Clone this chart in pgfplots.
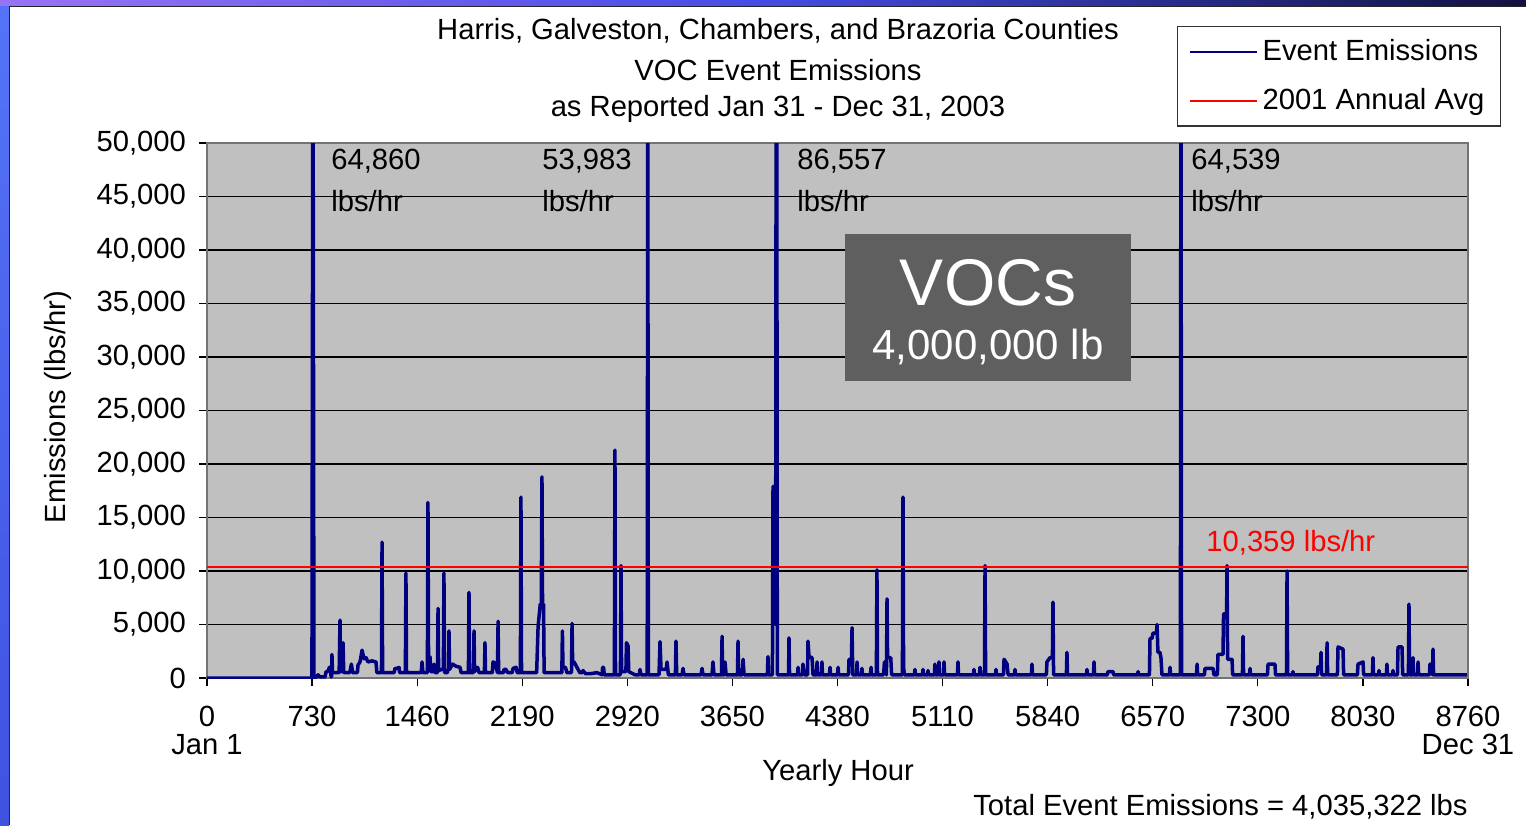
\documentclass[border=0pt]{standalone}
\usepackage{fontspec}
\setmainfont{Liberation Sans}
\usepackage{pgfplots}
\pgfplotsset{compat=1.18}

\definecolor{plotbg}{HTML}{C0C0C0}
\definecolor{evt}{HTML}{000080}
\definecolor{vocbox}{HTML}{5F5F5F}
\definecolor{frameA}{rgb}{0.60,0.45,0.96}
\definecolor{frameB}{rgb}{0.27,0.30,0.90}
\definecolor{frameC}{rgb}{0.07,0.07,0.25}
\definecolor{sideA}{rgb}{0.33,0.45,0.97}
\definecolor{sideB}{rgb}{0.25,0.32,0.88}

\newcommand\cf{\fontsize{14.6}{17}\selectfont}

\begin{document}
\begin{tikzpicture}
% page frame, in pixel units (origin top left)
\begin{scope}[x=0.5pt,y=-0.5pt]
  \useasboundingbox (0,0) rectangle (1526,825);
  \fill[white] (0,0) rectangle (1526,825);
  \shade[left color=frameA,right color=frameB] (0,0) rectangle (760,6);
  \shade[left color=frameB,right color=frameC] (760,0) rectangle (1526,6);
  \shade[top color=sideA,bottom color=sideB] (0,6) rectangle (9,825);
  \draw[black!85,line width=0.8pt] (9.5,825) -- (9.5,6.5) -- (1526,6.5);
\end{scope}

\begin{axis}[
  at={(103.5pt,-339pt)}, anchor=south west,
  scale only axis, width=630.5pt, height=267.5pt,
  xmin=0, xmax=8760, ymin=0, ymax=50000,
  axis background/.style={fill=plotbg},
  axis line style={draw=black!55,line width=0.9pt},
  ymajorgrids, grid style={black,line width=0.6pt},
  tick pos=left, tick align=outside, major tick length=4pt,
  major tick style={black,line width=0.6pt},
  scaled y ticks=false,
  xtick={0,730,1460,2190,2920,3650,4380,5110,5840,6570,7300,8030,8760},
  xticklabels={{0\\Jan 1},730,1460,2190,2920,3650,4380,5110,5840,6570,7300,8030,{8760\\Dec 31}},
  xticklabel style={align=center,font=\fontsize{14.6}{13.8}\selectfont,yshift=-6.6pt},
  ytick={0,5000,...,50000},
  yticklabels={0,{5,000},{10,000},{15,000},{20,000},{25,000},{30,000},{35,000},{40,000},{45,000},{50,000}},
  yticklabel style={font=\cf,xshift=-3pt},
  /pgf/number format/assume math mode=true,
  legend style={at={(1.0262,1.2187)},anchor=north east,draw=black!80,fill=white,
    font=\cf,inner xsep=6pt,inner ysep=4.5pt,row sep=8.5pt,line width=0.6pt},
  legend cell align=left,
  legend image code/.code={\draw[#1,line width=1.1pt] (0pt,0pt) -- (33.5pt,0pt);},
]
\addplot[evt,line width=1.75pt,line join=round] coordinates {
(0,0) (729,0) (736,64860) (743,0) (760,100) (771,300) (785,100) (820,100)
(827,600) (840,600) (850,1000) (858,1000) (862,100) (865,100) (868,2200) (872,500)
(918,500) (924,5400) (928,600) (940,600) (945,3300) (950,500) (990,500) (993,600)
(1003,1300) (1012,500) (1045,500) (1049,1200) (1063,1500) (1077,2600) (1091,1800)
(1105,1900) (1118,1500) (1146,1600) (1174,1500) (1180,500) (1212,500) (1216,12700)
(1220,500) (1300,500) (1306,900) (1320,900) (1334,1000) (1338,500) (1378,500)
(1382,9800) (1386,500) (1488,500) (1494,1500) (1500,500) (1531,500) (1535,16400)
(1539,2000) (1549,2000) (1555,600) (1572,600) (1577,1300) (1584,500) (1601,500)
(1605,6500) (1609,700) (1630,800) (1642,800) (1646,9800) (1650,500) (1670,500)
(1674,800) (1678,800) (1681,4400) (1685,800) (1705,1300) (1730,1100) (1758,1000)
(1765,500) (1816,500) (1820,8000) (1824,500) (1851,500) (1855,4400) (1859,600)
(1880,1000) (1890,500) (1927,500) (1931,3300) (1935,500) (1982,500) (1987,1500)
(2001,1400) (2018,500) (2022,5300) (2026,500) (2060,500) (2063,800) (2077,800)
(2090,500) (2120,500) (2126,900) (2147,1000) (2155,500) (2177,500) (2181,16900)
(2185,500) (2290,500) (2300,4800) (2315,6900) (2322,6900) (2327,18800) (2331,6900)
(2338,6900) (2342,500) (2465,500) (2469,4400) (2473,1000) (2490,1000) (2500,500)
(2532,500) (2536,5100) (2540,1500) (2550,1500) (2570,1000) (2590,500) (2608,500)
(2612,700) (2630,400) (2661,400) (2709,500) (2745,300) (2748,1000) (2755,1000)
(2760,300) (2830,300) (2834,21300) (2838,300) (2872,300) (2876,10500) (2880,600)
(2910,600) (2914,3300) (2925,3000) (2930,600) (2973,300) (3003,300) (3008,800)
(3015,300) (3058,300) (3062,53983) (3066,300) (3140,300) (3147,3400) (3154,800)
(3190,800) (3196,1500) (3205,300) (3254,300) (3258,3450) (3263,300) (3300,300)
(3307,900) (3314,300) (3432,300) (3439,900) (3446,300) (3508,300) (3515,1500)
(3522,300) (3574,300) (3578,3900) (3582,300) (3592,300) (3599,1500) (3606,300)
(3685,300) (3689,3450) (3693,300) (3717,300) (3724,1750) (3731,300) (3893,300)
(3897,2000) (3901,300) (3928,300) (3932,17900) (3936,5000) (3943,17900) (3950,5000)
(3956,86557) (3962,300) (4040,300) (4043,3750) (4047,300) (4102,300) (4106,1000)
(4110,300) (4136,300) (4140,1300) (4150,300) (4172,300) (4175,3450) (4182,2000)
(4203,1900) (4210,300) (4234,300) (4238,1500) (4242,300) (4268,300) (4272,1500)
(4276,300) (4324,300) (4328,1000) (4332,300) (4380,300) (4384,1000) (4388,300)
(4456,300) (4460,1750) (4477,1750) (4481,4700) (4486,300) (4512,300) (4516,1500)
(4520,300) (4546,300) (4550,900) (4554,300) (4609,300) (4613,1000) (4617,300)
(4650,300) (4654,10100) (4658,300) (4700,300) (4706,1500) (4716,1500) (4720,300)
(4724,7400) (4728,1900) (4750,1900) (4756,300) (4831,300) (4835,16900) (4839,1000)
(4845,300) (4914,300) (4918,800) (4922,300) (4970,300) (4974,800) (4978,300)
(5005,300) (5009,700) (5013,300) (5053,300) (5057,1300) (5061,300) (5081,300)
(5085,1500) (5089,300) (5116,300) (5120,1500) (5124,300) (5213,300) (5217,1500)
(5221,300) (5324,300) (5328,800) (5332,300) (5366,300) (5370,1000) (5374,300)
(5401,300) (5405,10500) (5409,300) (5477,300) (5481,800) (5485,300) (5533,300)
(5537,1750) (5558,1300) (5565,300) (5609,300) (5613,800) (5617,300) (5727,300)
(5731,1300) (5735,300) (5831,300) (5835,1500) (5856,1900) (5873,1900) (5877,7100)
(5881,300) (5970,300) (5974,2400) (5978,300) (6109,300) (6113,800) (6117,300)
(6158,300) (6162,1500) (6166,300) (6255,300) (6259,600) (6294,600) (6298,300)
(6464,300) (6468,600) (6472,300) (6547,300) (6551,3700) (6565,3700) (6572,4200)
(6595,4200) (6600,5000) (6606,2400) (6620,2400) (6627,1900) (6634,300) (6686,300)
(6690,1000) (6694,300) (6762,300) (6766,64539) (6770,300) (6874,300) (6878,1300)
(6882,300) (6929,300) (6933,900) (6989,900) (6995,300) (7019,300) (7023,2200)
(7058,2200) (7062,6000) (7083,6000) (7086,10500) (7090,1750) (7121,1750) (7125,300)
(7193,300) (7197,3900) (7201,300) (7242,300) (7246,900) (7250,300) (7367,300)
(7371,1300) (7419,1300) (7423,300) (7499,300) (7503,10000) (7507,300) (7540,300)
(7544,600) (7548,300) (7714,300) (7718,1050) (7735,1050) (7739,2400) (7743,300)
(7777,300) (7781,3300) (7785,300) (7853,300) (7857,2900) (7892,2700) (7896,300)
(7992,300) (7996,1300) (8031,1500) (8035,300) (8096,300) (8100,1900) (8104,300)
(8138,300) (8142,700) (8146,300) (8193,300) (8197,1300) (8201,300) (8235,300)
(8239,700) (8243,300) (8270,300) (8274,2900) (8302,2900) (8306,300) (8346,300)
(8350,6900) (8354,300) (8374,300) (8378,1900) (8382,300) (8409,300) (8413,1500)
(8417,300) (8492,300) (8496,1300) (8513,300) (8517,2700) (8521,300) (8580,300)
(8753,300)
};
\addlegendentry{Event Emissions}
\addplot[red,line width=1.3pt] coordinates {(0,10359) (8760,10359)};
\addlegendentry{2001 Annual Avg}
\end{axis}

% titles, labels and notes, in pixel units (origin top left)
\begin{scope}[x=0.5pt,y=-0.5pt]
  \node[font=\cf] at (778,31) {Harris, Galveston, Chambers, and Brazoria Counties};
  \node[font=\cf] at (778,70) {VOC Event Emissions};
  \node[font=\cf] at (778,109) {as Reported Jan 31 - Dec 31, 2003};
  \node[font=\cf,rotate=90] at (58,407) {Emissions (lbs/hr)};
  \node[font=\cf] at (838,773) {Yearly Hour};
  \node[font=\cf,anchor=east,inner sep=0pt] at (1468,807) {Total Event Emissions = 4,035,322 lbs};
  \foreach \xx/\vv in {331/{64,860},542/{53,983},797/{86,557},1191/{64,539}}{
    \node[font=\cf,anchor=west,inner sep=0pt] at (\xx,161) {\vv};
    \node[font=\cf,anchor=west,inner sep=0pt] at (\xx,201) {lbs/hr};
  }
  \node[font=\cf,text=red,anchor=west,inner sep=0pt] at (1206,543) {10,359 lbs/hr};
  \fill[vocbox] (845,234) rectangle (1131,381);
  \node[font=\fontsize{33}{36}\selectfont,text=white] at (988,283) {VOCs};
  \node[font=\fontsize{21}{24}\selectfont,text=white] at (988,347) {4,000,000 lb};
\end{scope}
\end{tikzpicture}
\end{document}
